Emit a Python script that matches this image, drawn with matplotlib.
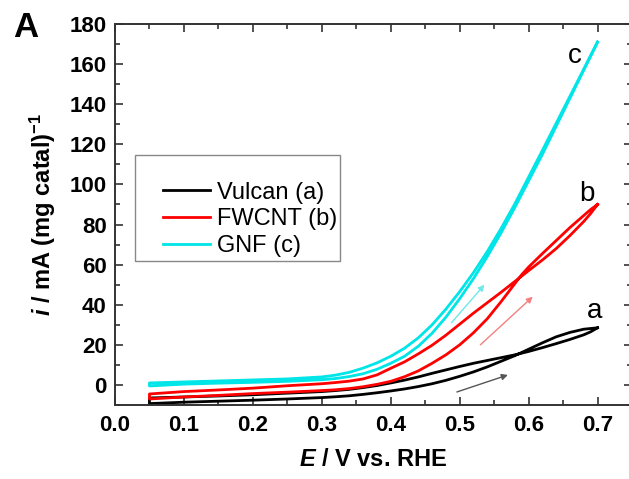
import numpy as np
import matplotlib
matplotlib.use('Agg')
import matplotlib.pyplot as plt
from matplotlib.patches import Rectangle

plt.rcParams['font.family'] = ['Liberation Sans', 'DejaVu Sans']
plt.rcParams['mathtext.fontset'] = 'custom'
plt.rcParams['mathtext.it'] = 'Liberation Sans:italic:bold'
plt.rcParams['mathtext.bf'] = 'Liberation Sans:bold'
plt.rcParams['mathtext.rm'] = 'Liberation Sans:bold'

# Vulcan (a) - forward / backward scans
vulcan_fwd_E = [0.05, 0.10, 0.15, 0.20, 0.25, 0.30, 0.32, 0.34, 0.36, 0.38, 0.40,
                0.42, 0.44, 0.46, 0.48, 0.50, 0.52, 0.54, 0.56, 0.58, 0.60,
                0.62, 0.64, 0.66, 0.68, 0.70]
vulcan_fwd_i = [-9.3, -8.6, -8.1, -7.6, -7.0, -6.3, -5.9, -5.4, -4.7, -3.9, -3.0,
                -2.0, -0.8, 0.6, 2.3, 4.3, 6.5, 9.0, 11.8, 14.6, 17.8,
                21, 24, 26.2, 27.8, 28.5]
vulcan_bwd_E = [0.70, 0.69, 0.68, 0.66, 0.64, 0.62, 0.60, 0.58, 0.56, 0.54, 0.52,
                0.50, 0.48, 0.46, 0.44, 0.42, 0.40, 0.38, 0.36, 0.34, 0.32,
                0.30, 0.25, 0.20, 0.15, 0.10, 0.05]
vulcan_bwd_i = [28.5, 26.5, 25, 22.7, 20.6, 18.6, 16.7, 15, 13.6, 12.2, 10.8,
                9.2, 7.5, 5.8, 4.0, 2.4, 1.0, -0.3, -1.3, -2.2, -2.8,
                -3.3, -4.1, -4.9, -5.5, -6, -6.5]

# FWCNT (b)
fwcnt_fwd_E = [0.05, 0.10, 0.15, 0.20, 0.25, 0.30, 0.32, 0.34, 0.36, 0.38, 0.40,
               0.42, 0.44, 0.46, 0.48, 0.50, 0.52, 0.54, 0.56, 0.58, 0.59,
               0.60, 0.62, 0.64, 0.66, 0.68, 0.69, 0.70]
fwcnt_fwd_i = [-7, -6, -5.2, -4.3, -3.6, -2.8, -2.4, -1.8, -0.9, 0.3, 1.8,
               4.1, 7.0, 10.8, 15, 20, 26, 33, 41.5, 50.5, 55,
               58.8, 65.5, 72, 78.5, 84.5, 87.5, 90]
fwcnt_bwd_E = [0.70, 0.69, 0.68, 0.66, 0.64, 0.62, 0.60, 0.59, 0.58, 0.56, 0.54,
               0.52, 0.50, 0.48, 0.46, 0.44, 0.42, 0.40, 0.38, 0.36, 0.34,
               0.32, 0.30, 0.25, 0.20, 0.15, 0.10, 0.05]
fwcnt_bwd_i = [90, 85.5, 81.5, 74.5, 68, 62.3, 57, 54.3, 51.6, 46.2, 41,
               35.8, 30.3, 24.8, 19.8, 15.5, 11.5, 8.3, 5.0, 3.0, 1.9,
               1.2, 0.6, -0.4, -1.6, -2.5, -3.3, -4.5]

# GNF (c)
gnf_fwd_E = [0.05, 0.10, 0.15, 0.20, 0.25, 0.30, 0.32, 0.34, 0.36, 0.38, 0.40,
             0.42, 0.44, 0.46, 0.48, 0.50, 0.52, 0.54, 0.56, 0.58, 0.62,
             0.66, 0.70]
gnf_fwd_i = [-0.5, 0.4, 0.9, 1.3, 1.8, 2.6, 3.2, 4.2, 5.6, 7.8, 10.8,
             14.3, 19.3, 25.8, 33.8, 43, 53, 64, 75.8, 88.5, 115,
             143, 171]
gnf_bwd_E = [0.70, 0.66, 0.62, 0.58, 0.56, 0.54, 0.52, 0.50, 0.48, 0.46, 0.44,
             0.42, 0.40, 0.38, 0.36, 0.34, 0.32, 0.30, 0.25, 0.20, 0.15,
             0.10, 0.05]
gnf_bwd_i = [171, 144, 117, 90.3, 78, 66.5, 56, 46.5, 37.8, 30, 23.5,
             18.3, 14.3, 11.0, 8.4, 6.3, 4.9, 4.0, 3.0, 2.5, 2.0,
             1.5, 1]

series_names = ['Vulcan (a)', 'FWCNT (b)', 'GNF (c)']
series_colors = ['#000000', '#ff0000', '#00e5e8']
arrow_colors = ['#555555', '#f58080', '#70e8ea']
# scan direction arrows (start, end) in data units
arrows = [((0.496, -3.5), (0.570, 5)),
          ((0.530, 20), (0.606, 44)),
          ((0.488, 31), (0.536, 50))]
curve_tags = ['a', 'b', 'c']
tag_pos = [(0.696, 37), (0.684, 95), (0.667, 164)]

fig = plt.figure(figsize=(6.29, 4.79), dpi=100)
ax = fig.add_axes([115 / 629, 74 / 479, 517 / 629, 381 / 479])

loops = [(vulcan_fwd_E, vulcan_fwd_i, vulcan_bwd_E, vulcan_bwd_i),
         (fwcnt_fwd_E, fwcnt_fwd_i, fwcnt_bwd_E, fwcnt_bwd_i),
         (gnf_fwd_E, gnf_fwd_i, gnf_bwd_E, gnf_bwd_i)]

for (fE, fi, bE, bi), name, col in zip(loops, series_names, series_colors):
    E = np.concatenate([bE, fE])
    i = np.concatenate([bi, fi])
    ax.plot(E, i, color=col, lw=2, label=name, solid_joinstyle='round')

for (p0, p1), col in zip(arrows, arrow_colors):
    ax.annotate('', xy=p1, xytext=p0,
                arrowprops=dict(arrowstyle='-|>', color=col, lw=1,
                                mutation_scale=9, shrinkA=0, shrinkB=0))

for t, (x, y) in zip(curve_tags, tag_pos):
    ax.text(x, y, t, fontsize=20, ha='center', va='center')

ax.set_xlim(0.0, 0.75)
ax.set_ylim(-10, 180)
ax.set_xticks(np.arange(0.0, 0.71, 0.1))
ax.set_xticks(np.arange(0.05, 0.76, 0.1), minor=True)
ax.set_yticks(np.arange(0, 181, 20))
ax.set_yticks(np.arange(-10, 181, 20), minor=True)
ax.xaxis.set_major_formatter(matplotlib.ticker.FormatStrFormatter('%.1f'))

ax.tick_params(which='both', direction='in', top=True, right=True,
               labelsize=16, color='#333333')
ax.tick_params(which='major', length=6, width=1.2)
ax.tick_params(which='minor', length=3.5, width=1.2)
ax.tick_params(axis='x', pad=7)
ax.tick_params(axis='y', pad=6)
for lab in ax.get_xticklabels() + ax.get_yticklabels():
    lab.set_fontweight('bold')
for s in ax.spines.values():
    s.set_linewidth(1.4)
    s.set_color('#333333')

ax.set_xlabel(r'$\mathit{E}$ / V vs. RHE', fontsize=17, fontweight='bold', labelpad=9)
ax.set_ylabel(r'$\mathit{i}$ / mA (mg catal)$^{\mathbf{-1}}$', fontsize=17,
              fontweight='bold', labelpad=8)

leg = ax.legend(loc='upper left', bbox_to_anchor=(0.093, 0.586), frameon=False,
                fontsize=17, handlelength=2.0, handletextpad=0.3,
                labelspacing=0.2, borderpad=0, borderaxespad=0)
ax.add_patch(Rectangle((0.039, 0.377), 0.397, 0.28, transform=ax.transAxes,
                       fill=False, edgecolor='#888888', lw=1))

fig.text(13 / 629, 1 - 37 / 479, 'A', fontsize=25, fontweight='bold', va='baseline')

fig.savefig('out.png', dpi=100)
